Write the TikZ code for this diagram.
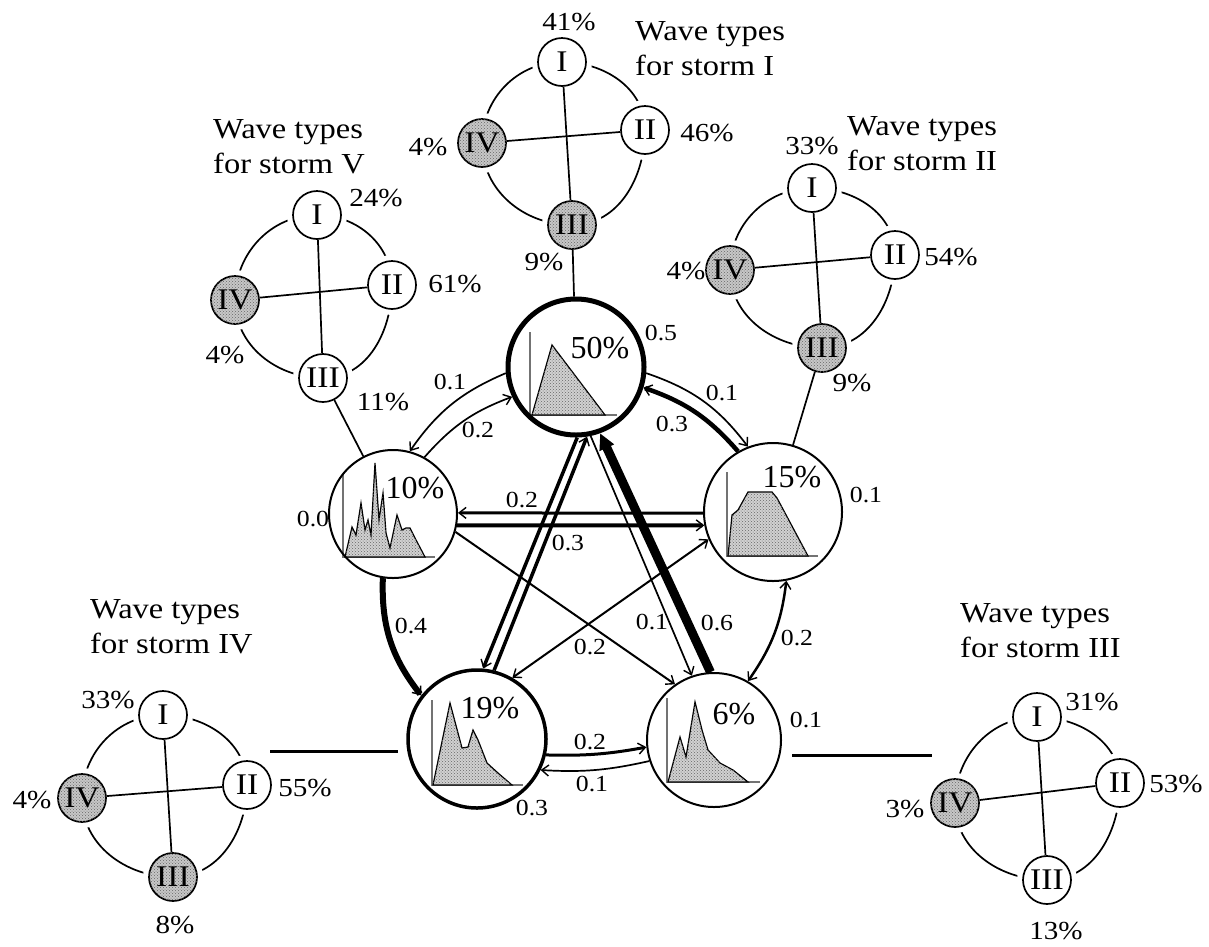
\documentclass[tikz,border=0pt]{standalone}
\usepackage{fontspec}
\setmainfont{Liberation Serif}
\newfontfamily\widefont[FakeStretch=1.12]{Liberation Serif}
\usetikzlibrary{arrows.meta,patterns}

\tikzset{
  state/.style={circle, draw, line width=2pt, inner sep=0pt},
  pct/.style={font=\fontsize{32}{32}\selectfont, inner sep=0pt},
  lab/.style={font=\widefont\fontsize{23}{23}\selectfont, inner sep=0pt},
  slab/.style={font=\widefont\fontsize{26}{26}\selectfont, inner sep=0pt},
  title/.style={font=\widefont\fontsize{29}{35}\selectfont, align=left, anchor=west, inner sep=0pt},
  wt/.style={circle, draw, line width=1.7pt, fill=white, minimum size=48pt, inner sep=0pt,
    font=\widefont\fontsize{30}{30}\selectfont, preaction={draw=white, line width=12pt}},
  wtg/.style={wt, fill=black!22, postaction={pattern=crosshatch dots, pattern color=black!60}},
  ring/.style={line width=1.7pt},
  link/.style={line width=1.7pt},
  hist/.style={draw=black, line width=1.2pt, fill=black!18,
    postaction={pattern=crosshatch dots, pattern color=black!60}},
  axis/.style={draw=black!55, line width=1.3pt},
  tip/.style={-{Straight Barb[length=7pt,width=11pt,line width=1.4pt]}},
  tips/.style={{Straight Barb[length=7pt,width=11pt,line width=1.4pt]}-{Straight Barb[length=7pt,width=11pt,line width=1.4pt]}},
  bigtip/.style={-{Triangle[length=16pt,width=15pt]}},
}

\begin{document}
\begin{tikzpicture}[x=1pt,y=1pt]
\useasboundingbox (0,0) rectangle (1209,-946);

% ---------- histograms inside the five storm states ----------
\draw[axis] (530,-332) -- (530,-415) -- (617,-415);
\path[hist] (532,-415) -- (552,-345) -- (605,-415) -- cycle;

\draw[axis] (343,-475) -- (343,-557) -- (435,-557);
\path[hist] (345,-557) -- (352,-527) -- (356,-535) -- (361,-503) -- (365,-530) -- (368,-520)
  -- (371,-535) -- (375,-463) -- (379,-520) -- (383,-493) -- (386,-533) -- (390,-548)
  -- (397,-515) -- (402,-530) -- (406,-528) -- (410,-528) -- (415,-538) -- (425,-557) -- cycle;

\draw[axis] (727,-472) -- (727,-556) -- (818,-556);
\path[hist] (728,-556) -- (732,-515) -- (738,-510) -- (748,-492) -- (772,-492) -- (777,-498)
  -- (808,-556) -- cycle;

\draw[axis] (432,-700) -- (432,-785) -- (523,-785);
\path[hist] (433,-785) -- (450,-703) -- (462,-748) -- (468,-747) -- (473,-730) -- (478,-740)
  -- (487,-763) -- (498,-773) -- (512,-785) -- cycle;

\draw[axis] (667,-698) -- (667,-782) -- (760,-782);
\path[hist] (668,-782) -- (680,-737) -- (686,-757) -- (695,-702) -- (702,-730) -- (708,-750)
  -- (720,-763) -- (733,-770) -- (748,-782) -- cycle;

% ---------- storm states ----------
\node[state, line width=5pt, minimum size=136pt] (n50) at (576,-367) {};
\node[state, minimum size=128pt] (n10) at (393,-514) {};
\node[state, minimum size=138pt] (n15) at (773,-512) {};
\node[state, line width=3.5pt, minimum size=138pt] (n19) at (477,-739) {};
\node[state, minimum size=134pt] (n6) at (714,-740) {};

\node[pct] (p50) at (600,-348) {50\%};
\node[pct] (p10) at (415,-488) {10\%};
\node[pct] (p15) at (792,-477) {15\%};
\node[pct] (p19) at (490,-708) {19\%};
\node[pct] (p6)  at (734,-714) {6\%};

% self-transition probabilities
\node[lab] (r50) at (661,-333) {0.5};
\node[lab] (r10) at (313,-519) {0.0};
\node[lab] (r15) at (866,-495) {0.1};
\node[lab] (r6)  at (806,-720) {0.1};
\node[lab] (r19) at (532,-808) {0.3};

% ---------- transitions along the ring ----------
\draw[tip, line width=1.7pt] (n10.61) to[bend left=14] (n50.205);
\draw[tip, line width=1.7pt] (n50.185) to[bend right=16] (n10.75);
\draw[tip, line width=1.7pt] (n50.355) to[bend left=17] (n15.111);
\draw[tip, line width=4.5pt] (n15.120) to[bend right=15] (n50.343);
\draw[tips, line width=2.5pt] (n15.281) to[bend left=14] (n6.60);
\draw[tip, line width=3pt] (n19.347) to[bend right=6] (n6.186);
\draw[tip, line width=1.7pt] (n6.198) to[bend left=8] (n19.334);
\draw[tip, line width=6pt] (n10.261) to[bend right=20] (n19.142);

% ---------- transitions across the ring ----------
\draw[tip, line width=3pt] (n15.181) -- (n10.1);
\draw[tip, line width=4pt] (n10.350) -- (n15.191);
\draw[tip, line width=3.5pt] (n50.271) -- (n19.85);
\draw[tip, line width=3.5pt] (n19.76) -- (n50.279);
\draw[bigtip, line width=9pt] (n6.93) -- (n50.290);
\draw[tip, line width=1.7pt] (n50.282) -- (n6.109);
\draw[tip, line width=2pt] (n10.344) -- (n6.125);
\draw[tips, line width=2pt] (n15.203) -- (n19.60);

% transition probabilities
\node[lab] (t1) at (450,-382) {0.1};
\node[lab] (t2) at (478,-430) {0.2};
\node[lab] (t3) at (722,-393) {0.1};
\node[lab] (t4) at (672,-424) {0.3};
\node[lab] (t5) at (522,-500) {0.2};
\node[lab] (t6) at (568,-543) {0.3};
\node[lab] (t7) at (411,-626) {0.4};
\node[lab] (t8) at (797,-638) {0.2};
\node[lab] (t9) at (652,-622) {0.1};
\node[lab] (t10) at (717,-623) {0.6};
\node[lab] (t11) at (590,-647) {0.2};
\node[lab] (t12) at (590,-742) {0.2};
\node[lab] (t13) at (592,-784) {0.1};

% ---------- wave types for storm I ----------
\coordinate (q1I) at (562,-62); \coordinate (q1II) at (645,-130);
\coordinate (q1III) at (572,-225); \coordinate (q1IV) at (482,-143);
\draw[ring] (q1I) to[out=0,in=90] (q1II) to[out=-90,in=0] (q1III)
  to[out=180,in=-90] (q1IV) to[out=90,in=180] (q1I);
\node[wt] (s1I) at (q1I) {I};
\node[wt] (s1II) at (q1II) {II};
\node[wtg] (s1III) at (q1III) {III};
\node[wtg] (s1IV) at (q1IV) {IV};
\draw[ring] (s1I) -- (s1III);
\draw[ring] (s1IV) -- (s1II);
\node[slab] (l1I) at (569,-22) {41\%};
\node[slab] (l1II) at (707,-133) {46\%};
\node[slab] (l1IV) at (428,-147) {4\%};
\node[slab] (l1III) at (544,-262) {9\%};
\node[title] (h1) at (635,-49) {Wave types\\for storm I};
\draw[link] (s1III) -- (n50);

% ---------- wave types for storm V ----------
\coordinate (q5I) at (317,-215); \coordinate (q5II) at (392,-285);
\coordinate (q5III) at (323,-378); \coordinate (q5IV) at (235,-300);
\draw[ring] (q5I) to[out=0,in=90] (q5II) to[out=-90,in=0] (q5III)
  to[out=180,in=-90] (q5IV) to[out=90,in=180] (q5I);
\node[wt] (s5I) at (q5I) {I};
\node[wt] (s5II) at (q5II) {II};
\node[wt] (s5III) at (q5III) {III};
\node[wtg] (s5IV) at (q5IV) {IV};
\draw[ring] (s5I) -- (s5III);
\draw[ring] (s5IV) -- (s5II);
\node[slab] (l5I) at (376,-198) {24\%};
\node[slab] (l5II) at (455,-284) {61\%};
\node[slab] (l5IV) at (225,-355) {4\%};
\node[slab] (l5III) at (383,-402) {11\%};
\node[title] (h5) at (213,-147) {Wave types\\for storm V};
\draw[link] (s5III) -- (n10);

% ---------- wave types for storm II ----------
\coordinate (q2I) at (812,-188); \coordinate (q2II) at (895,-255);
\coordinate (q2III) at (822,-348); \coordinate (q2IV) at (730,-270);
\draw[ring] (q2I) to[out=0,in=90] (q2II) to[out=-90,in=0] (q2III)
  to[out=180,in=-90] (q2IV) to[out=90,in=180] (q2I);
\node[wt] (s2I) at (q2I) {I};
\node[wt] (s2II) at (q2II) {II};
\node[wtg] (s2III) at (q2III) {III};
\node[wtg] (s2IV) at (q2IV) {IV};
\draw[ring] (s2I) -- (s2III);
\draw[ring] (s2IV) -- (s2II);
\node[slab] (l2I) at (812,-146) {33\%};
\node[slab] (l2II) at (951,-257) {54\%};
\node[slab] (l2IV) at (686,-271) {4\%};
\node[slab] (l2III) at (852,-383) {9\%};
\node[title] (h2) at (847,-144) {Wave types\\for storm II};
\draw[link] (s2III) -- (n15);

% ---------- wave types for storm IV ----------
\coordinate (q4I) at (163,-715); \coordinate (q4II) at (247,-785);
\coordinate (q4III) at (173,-877); \coordinate (q4IV) at (82,-798);
\draw[ring] (q4I) to[out=0,in=90] (q4II) to[out=-90,in=0] (q4III)
  to[out=180,in=-90] (q4IV) to[out=90,in=180] (q4I);
\node[wt] (s4I) at (q4I) {I};
\node[wt] (s4II) at (q4II) {II};
\node[wtg] (s4III) at (q4III) {III};
\node[wtg] (s4IV) at (q4IV) {IV};
\draw[ring] (s4I) -- (s4III);
\draw[ring] (s4IV) -- (s4II);
\node[slab] (l4I) at (108,-700) {33\%};
\node[slab] (l4II) at (305,-788) {55\%};
\node[slab] (l4IV) at (32,-800) {4\%};
\node[slab] (l4III) at (175,-925) {8\%};
\node[title] (h4) at (90,-627) {Wave types\\for storm IV};
\coordinate (c4a) at (270,-751);
\coordinate (c4b) at (398,-751);
\draw[line width=3pt] (c4a) -- (c4b);

% ---------- wave types for storm III ----------
\coordinate (q3I) at (1037,-717); \coordinate (q3II) at (1120,-783);
\coordinate (q3III) at (1047,-880); \coordinate (q3IV) at (955,-803);
\draw[ring] (q3I) to[out=0,in=90] (q3II) to[out=-90,in=0] (q3III)
  to[out=180,in=-90] (q3IV) to[out=90,in=180] (q3I);
\node[wt] (s3I) at (q3I) {I};
\node[wt] (s3II) at (q3II) {II};
\node[wt] (s3III) at (q3III) {III};
\node[wtg] (s3IV) at (q3IV) {IV};
\draw[ring] (s3I) -- (s3III);
\draw[ring] (s3IV) -- (s3II);
\node[slab] (l3I) at (1092,-702) {31\%};
\node[slab] (l3II) at (1176,-784) {53\%};
\node[slab] (l3IV) at (905,-809) {3\%};
\node[slab] (l3III) at (1056,-931) {13\%};
\node[title] (h3) at (960,-631) {Wave types\\for storm III};
\coordinate (c3a) at (792,-755);
\coordinate (c3b) at (932,-755);
\draw[line width=3pt] (c3a) -- (c3b);

\end{tikzpicture}
\end{document}
